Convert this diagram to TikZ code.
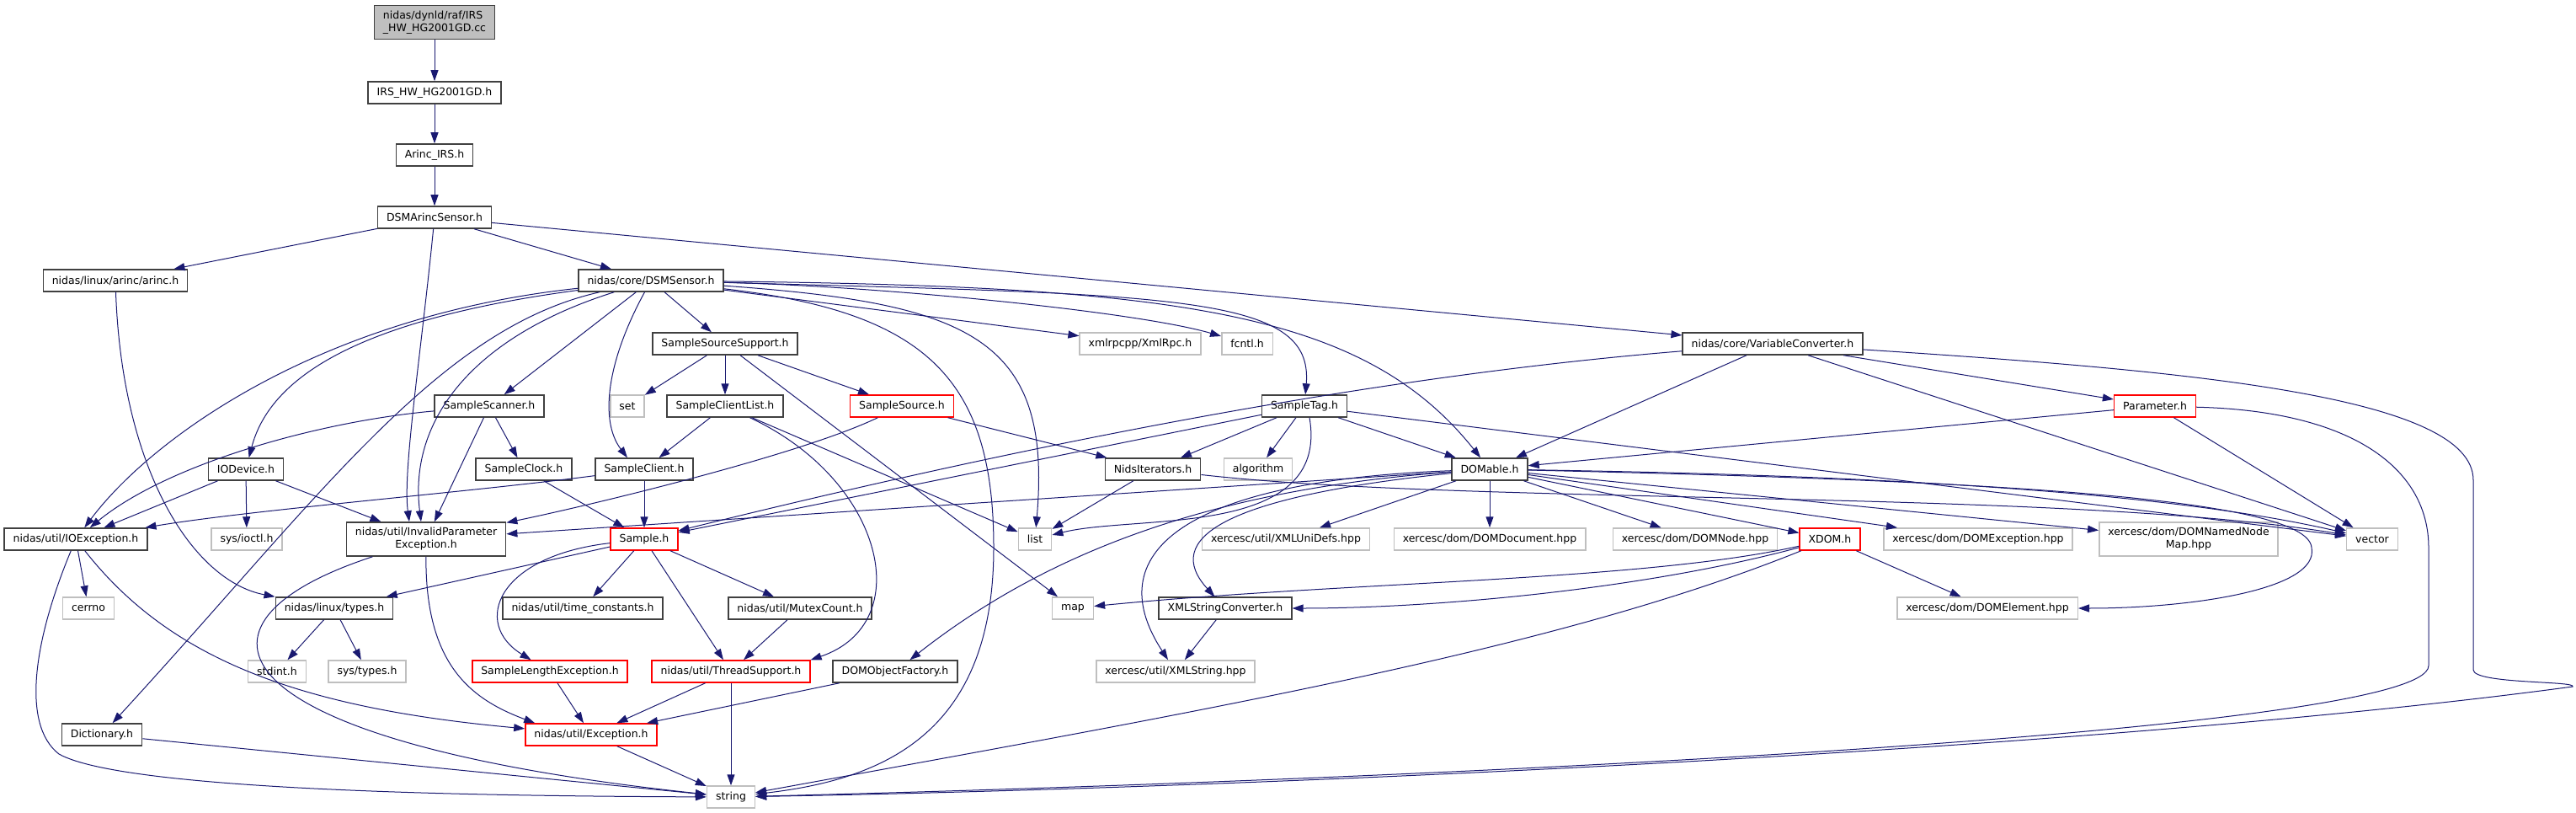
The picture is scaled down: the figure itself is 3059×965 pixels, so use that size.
\documentclass[tikz,border=0pt]{standalone}
\usepackage{fontspec}
\setmainfont{DejaVu Sans}
\usetikzlibrary{arrows.meta}
\definecolor{ink}{HTML}{191970}
\definecolor{alarm}{HTML}{FF0000}
\definecolor{sysgray}{HTML}{BFBFBF}
\definecolor{boxline}{HTML}{404040}
\newcommand{\hdrfont}{\fontsize{12.5pt}{15pt}\selectfont}

\begin{document}
\begin{tikzpicture}[x=1pt,y=-1pt,>={Triangle[length=13pt,width=9pt]},
  hdr/.style={draw=boxline,line width=1.5pt,fill=white,font=\hdrfont,
    inner xsep=10.5pt,inner ysep=6.5pt,minimum height=26pt,align=center},
  redhdr/.style={hdr,draw=alarm},
  syshdr/.style={hdr,draw=sysgray},
  roothdr/.style={hdr,fill=sysgray,align=left},
  dep/.style={->,draw=ink,line width=1pt}]
\useasboundingbox (0,0) rectangle (3059,965);

\node[roothdr] (root) at (516,26.5) {nidas/dynld/raf/IRS\\\_HW\_HG2001GD.cc};
\node[hdr] (irs) at (516,110) {IRS\_HW\_HG2001GD.h};
\node[hdr] (arincirs) at (516,184) {Arinc\_IRS.h};
\node[hdr] (dsmarinc) at (516,258) {DSMArincSensor.h};
\node[hdr] (arinc) at (137,333) {nidas/linux/arinc/arinc.h};
\node[hdr] (dsmsensor) at (773,333) {nidas/core/DSMSensor.h};
\node[hdr] (varconv) at (2105,408) {nidas/core/VariableConverter.h};
\node[hdr] (sss) at (861,408) {SampleSourceSupport.h};
\node[syshdr] (xmlrpc) at (1354,408) {xmlrpcpp/XmlRpc.h};
\node[syshdr] (fcntl) at (1481,408) {fcntl.h};
\node[hdr] (scanner) at (581,482) {SampleScanner.h};
\node[syshdr] (set) at (745,482) {set};
\node[hdr] (sclientlist) at (861,482) {SampleClientList.h};
\node[redhdr] (ssource) at (1071,482) {SampleSource.h};
\node[hdr] (stag) at (1549,482) {SampleTag.h};
\node[redhdr] (parameter) at (2559,482) {Parameter.h};
\node[hdr] (iodevice) at (292,557) {IODevice.h};
\node[hdr] (sclock) at (622,557) {SampleClock.h};
\node[hdr] (sclient) at (765,557) {SampleClient.h};
\node[hdr] (nids) at (1369,557) {NidsIterators.h};
\node[syshdr] (algorithm) at (1494,557) {algorithm};
\node[hdr] (domable) at (1769,557) {DOMable.h};
\node[hdr] (ioexc) at (90,640) {nidas/util/IOException.h};
\node[syshdr] (ioctl) at (293,640) {sys/ioctl.h};
\node[hdr] (invparam) at (506,640) {nidas/util/InvalidParameter\\Exception.h};
\node[redhdr] (sample) at (765,640) {Sample.h};
\node[syshdr] (list) at (1229,640) {list};
\node[syshdr] (xmlunidefs) at (1527,640) {xercesc/util/XMLUniDefs.hpp};
\node[syshdr] (domdoc) at (1769,640) {xercesc/dom/DOMDocument.hpp};
\node[syshdr] (domnode) at (2013,640) {xercesc/dom/DOMNode.hpp};
\node[redhdr] (xdom) at (2173,640) {XDOM.h};
\node[syshdr] (domexc) at (2349,640) {xercesc/dom/DOMException.hpp};
\node[syshdr] (domnamed) at (2599,640) {xercesc/dom/DOMNamedNode\\Map.hpp};
\node[syshdr] (vector) at (2817,640) {vector};
\node[syshdr] (cerrno) at (105,722) {cerrno};
\node[hdr] (types) at (397,722) {nidas/linux/types.h};
\node[hdr] (timeconst) at (692,722) {nidas/util/time\_constants.h};
\node[hdr] (mutex) at (950,722) {nidas/util/MutexCount.h};
\node[syshdr] (map) at (1274,722) {map};
\node[hdr] (xmlsconv) at (1455,722) {XMLStringConverter.h};
\node[syshdr] (domelem) at (2360,722) {xercesc/dom/DOMElement.hpp};
\node[syshdr] (stdint) at (329,797) {stdint.h};
\node[syshdr] (systypes) at (436,797) {sys/types.h};
\node[redhdr] (samplelen) at (653,797) {SampleLengthException.h};
\node[redhdr] (thread) at (868,797) {nidas/util/ThreadSupport.h};
\node[hdr] (domfactory) at (1063,797) {DOMObjectFactory.h};
\node[syshdr] (xmlstring) at (1396,797) {xercesc/util/XMLString.hpp};
\node[hdr] (dictionary) at (121,872) {Dictionary.h};
\node[redhdr] (exception) at (702,872) {nidas/util/Exception.h};
\node[syshdr] (string) at (868,946) {string};

\foreach \a/\b in {root/irs,irs/arincirs,arincirs/dsmarinc,dsmarinc/arinc,
  dsmarinc/dsmsensor,dsmarinc/varconv,dsmsensor/scanner,dsmsensor/sss,
  dsmsensor/xmlrpc,sss/set,sss/sclientlist,sss/ssource,sss/map,
  scanner/invparam,scanner/sclock,sclientlist/sclient,sclientlist/list,
  ssource/nids,stag/nids,stag/algorithm,stag/domable,stag/vector,stag/sample,
  varconv/parameter,varconv/domable,varconv/vector,parameter/domable,
  parameter/vector,iodevice/ioexc,iodevice/ioctl,iodevice/invparam,
  sclock/sample,sclient/sample,nids/list,domable/invparam,domable/xmlunidefs,
  domable/domdoc,domable/domnode,domable/xdom,domable/domexc,domable/domnamed,
  ioexc/cerrno,sample/types,sample/timeconst,sample/mutex,sample/thread,
  types/stdint,types/systypes,xdom/domelem,xmlsconv/xmlstring,
  samplelen/exception,thread/exception,thread/string,mutex/thread,
  domfactory/exception,exception/string,dictionary/string}
  \draw[dep] (\a) -- (\b);

\draw[dep] (dsmarinc) .. controls (500,420) and (478,560) .. ([xshift=-20pt]invparam.north);
\draw[dep] (arinc) .. controls (145,560) and (230,690) .. (types.north west);
\draw[dep] (dsmsensor) .. controls (380,375) and (180,520) .. (ioexc);
\draw[dep] (dsmsensor) .. controls (420,380) and (320,450) .. (iodevice);
\draw[dep] (dsmsensor) .. controls (520,390) and (380,590) .. (dictionary);
\draw[dep] (dsmsensor) .. controls (560,400) and (485,500) .. ([xshift=-6pt]invparam.north);
\draw[dep] (dsmsensor) .. controls (720,430) and (712,500) .. ([xshift=-20pt]sclient.north);
\draw[dep] (dsmsensor) .. controls (1050,340) and (1350,370) .. (fcntl);
\draw[dep] (dsmsensor) .. controls (1400,350) and (1560,350) .. (stag);
\draw[dep] (dsmsensor) .. controls (1400,340) and (1620,370) .. (domable);
\draw[dep] (dsmsensor) .. controls (1150,360) and (1250,400) .. (list);
\draw[dep] (dsmsensor) .. controls (1100,370) and (1180,450) .. (1180,650)
  .. controls (1180,870) and (1050,925) .. (string);
\draw[dep] (scanner) .. controls (380,500) and (200,550) .. (ioexc);
\draw[dep] (sclient) .. controls (550,585) and (300,605) .. (ioexc);
\draw[dep] (sclientlist) .. controls (1050,570) and (1090,740) .. (thread.north east);
\draw[dep] (ssource) .. controls (950,540) and (700,600) .. (invparam);
\draw[dep] ([xshift=6pt]stag.south) .. controls (1580,640) and (1350,610) .. (list);
\draw[dep] (varconv) .. controls (1650,445) and (1250,520) .. (sample);
\draw[dep] (varconv) .. controls (2600,440) and (2937,470) .. (2937,570) -- (2937,795)
  .. controls (2937,812) and (3060,808) .. (3055,815)
  .. controls (2500,890) and (1500,935) .. (string);
\draw[dep] (parameter) .. controls (2800,488) and (2884,560) .. (2884,650) -- (2884,790)
  .. controls (2884,870) and (1700,925) .. (string);
\draw[dep] (nids) .. controls (1750,600) and (2450,580) .. (vector);
\draw[dep] (domable) .. controls (2300,565) and (2600,590) .. (vector);
\draw[dep] (domable) .. controls (2350,570) and (2740,590) .. (2745,650)
  .. controls (2755,700) and (2600,722) .. (domelem);
\draw[dep] (domable) .. controls (1420,570) and (1300,650) .. (xmlstring);
\draw[dep] (domable) .. controls (1450,590) and (1380,640) .. (xmlsconv);
\draw[dep] (domable) .. controls (1450,580) and (1250,650) .. (domfactory);
\draw[dep] (ioexc) .. controls (200,780) and (350,840) .. (exception);
\draw[dep] (ioexc) .. controls (40,760) and (25,860) .. (70,895)
  .. controls (150,940) and (600,945) .. (string);
\draw[dep] (invparam) .. controls (505,790) and (560,830) .. ([xshift=12pt]exception.north west);
\draw[dep] (invparam) .. controls (200,740) and (250,880) .. (string);
\draw[dep] (sample) .. controls (590,660) and (560,740) .. (samplelen);
\draw[dep] (xdom) .. controls (1950,690) and (1600,690) .. (map);
\draw[dep] (xdom) .. controls (1950,700) and (1700,722) .. (xmlsconv);
\draw[dep] (xdom) .. controls (1850,770) and (1450,840) .. (string);
\end{tikzpicture}
\end{document}
